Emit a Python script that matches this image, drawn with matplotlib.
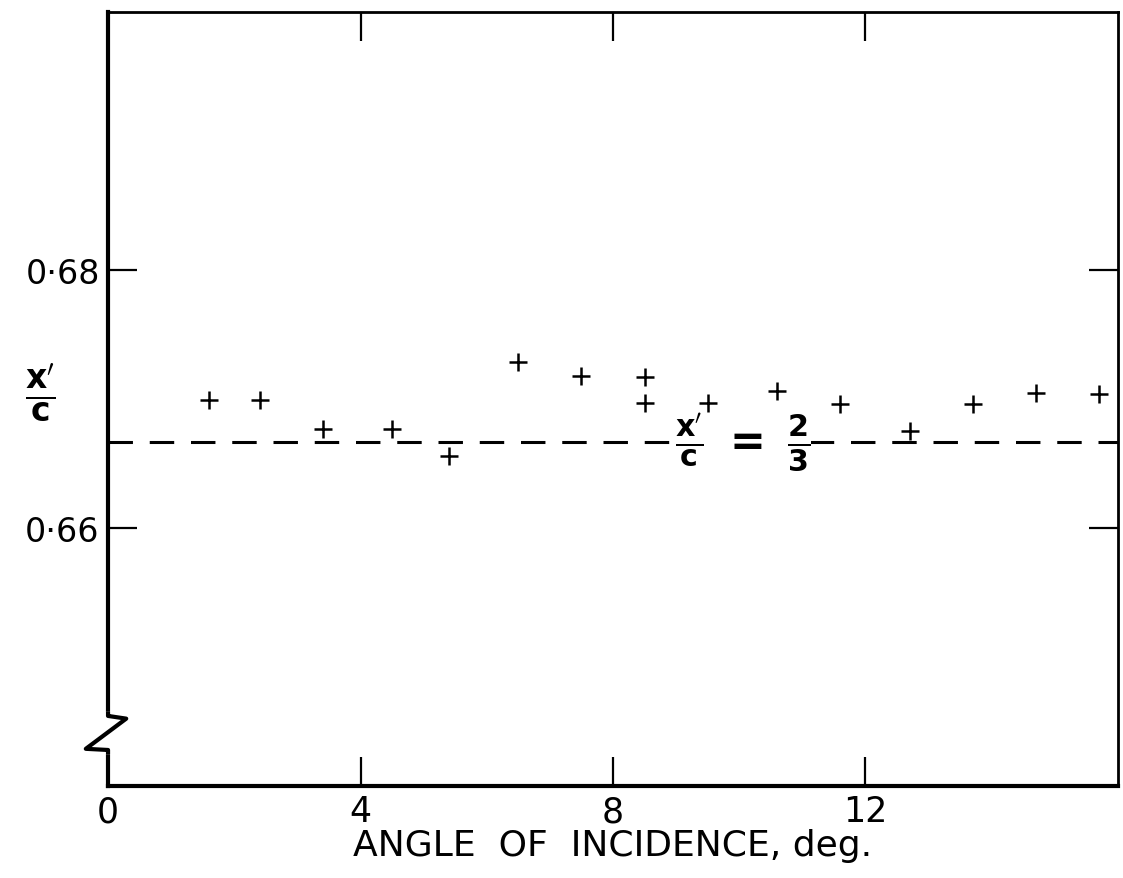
import matplotlib
matplotlib.use("Agg")
import matplotlib.pyplot as plt

# measured centre of pressure position x'/c against incidence
angle = [1.6, 2.4, 3.4, 4.5, 5.4, 6.5, 7.5, 8.5, 8.5, 9.5, 10.6, 11.6, 12.7, 13.7, 14.7, 15.7]
xc = [0.6699, 0.6699, 0.6677, 0.6677, 0.6656, 0.6729, 0.6718, 0.6717,
      0.6697, 0.6697, 0.6706, 0.6696, 0.6675, 0.6696, 0.6705, 0.6704]
theory = 2 / 3

xticks = [0, 4, 8, 12]
xticklabels = ["0", "4", "8", "12"]
yticks = [0.66, 0.68]
yticklabels = ["0·66", "0·68"]

plt.rcParams["font.family"] = "DejaVu Sans"
plt.rcParams["mathtext.fontset"] = "dejavusans"

fig = plt.figure(figsize=(11.23, 8.79), dpi=100)
ax = fig.add_axes([0.0962, 0.1047, 0.8993, 0.8805])

ax.set_xlim(0, 16)
ax.set_ylim(0.64, 0.70)

# theoretical line x'/c = 2/3
ax.axhline(theory, color="black", lw=2.2, dashes=(8, 5.5), zorder=2)
ax.text(10.05, theory, r"$\mathbf{\frac{x'}{c}\ =\ \frac{2}{3}}$", fontsize=31,
        ha="center", va="center", zorder=3,
        bbox=dict(facecolor="white", edgecolor="none", pad=1))

ax.plot(angle, xc, "+", color="black", ms=13, mew=1.8, zorder=4)

ax.set_xticks(xticks)
ax.set_xticklabels(xticklabels, fontsize=25)
ax.set_yticks(yticks)
ax.set_yticklabels(yticklabels, fontsize=24)
ax.tick_params(axis="both", direction="in", length=21, width=1.6,
               top=True, right=True, pad=6)

for side in ("left", "bottom"):
    ax.spines[side].set_linewidth(3)
for side in ("top", "right"):
    ax.spines[side].set_linewidth(2)

# break in the y axis near the origin
tr = ax.transAxes
ax.plot([0, 0], [0.047, 0.090], color="white", lw=6, transform=tr,
        clip_on=False, zorder=5)
ax.plot([0, 0, 0.018, -0.022, 0, 0],
        [0.093, 0.0905, 0.087, 0.048, 0.0465, 0.044],
        color="black", lw=3, transform=tr, clip_on=False, zorder=6)

ax.set_xlabel("ANGLE  OF  INCIDENCE, deg.", fontsize=26, labelpad=0)
ax.set_ylabel(r"$\mathbf{\frac{x'}{c}}$", fontsize=34, rotation=0,
              va="center", ha="center")
ax.yaxis.set_label_coords(-0.067, 0.51)

fig.savefig("out.png", dpi=100)
